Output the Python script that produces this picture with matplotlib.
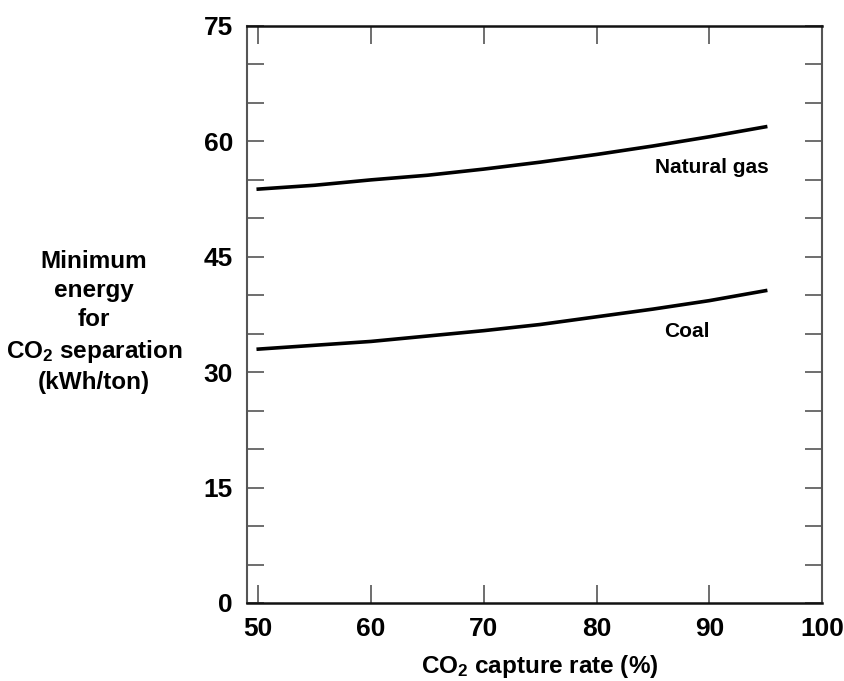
import matplotlib.pyplot as plt
import numpy as np

plt.rcParams['font.family'] = ['Liberation Sans', 'DejaVu Sans']
plt.rcParams['font.weight'] = 'bold'
plt.rcParams['mathtext.fontset'] = 'custom'
plt.rcParams['mathtext.rm'] = 'Liberation Sans:bold'
plt.rcParams['mathtext.default'] = 'rm'

# capture rate (%) and minimum separation energy (kWh/ton)
capture_rate = [50, 55, 60, 65, 70, 75, 80, 85, 90, 95]
natural_gas = [53.8, 54.3, 55.0, 55.6, 56.4, 57.3, 58.3, 59.4, 60.6, 61.9]
coal = [33.0, 33.5, 34.0, 34.7, 35.4, 36.2, 37.2, 38.2, 39.3, 40.6]

fig = plt.figure(figsize=(8.45, 6.81), dpi=100)
ax = fig.add_axes([247/845, 1 - 603/681, 575/845, 577/681])

ax.plot(capture_rate, natural_gas, color='black', lw=2.6)
ax.plot(capture_rate, coal, color='black', lw=2.6)

ax.text(90.2, 56.6, 'Natural gas', ha='center', va='center', fontsize=15, fontweight='bold')
ax.text(88, 35.3, 'Coal', ha='center', va='center', fontsize=15, fontweight='bold')

ax.set_xlim(49, 100)
ax.set_ylim(0, 75)
ax.set_xticks(np.arange(50, 101, 10))
ax.set_yticks(np.arange(0, 76, 15))
ax.set_yticks(np.arange(0, 76, 5), minor=True)

ax.tick_params(axis='both', which='both', direction='in', top=True, right=True,
               color='#555555', width=1.2)
ax.tick_params(axis='x', which='major', length=13, pad=10, labelsize=19)
ax.tick_params(axis='y', which='both', length=12, pad=10, labelsize=19)
ax.tick_params(axis='x', which='minor', length=0)
for lbl in ax.get_xticklabels() + ax.get_yticklabels():
    lbl.set_fontweight('bold')

for side in ['left', 'right']:
    ax.spines[side].set_color('#555555')
    ax.spines[side].set_linewidth(1.5)
for side in ['top', 'bottom']:
    ax.spines[side].set_color('#111111')
    ax.spines[side].set_linewidth(1.8)

fig.text(94/845, 1 - 322/681,
         'Minimum\nenergy\nfor\nCO$_2$ separation\n(kWh/ton)',
         ha='center', va='center', fontsize=17.5, fontweight='bold', linespacing=1.35)
fig.text(540/845, 1 - 666/681, 'CO$_2$ capture rate (%)',
         ha='center', va='center', fontsize=17.5, fontweight='bold')

fig.savefig('out.png', dpi=100)
